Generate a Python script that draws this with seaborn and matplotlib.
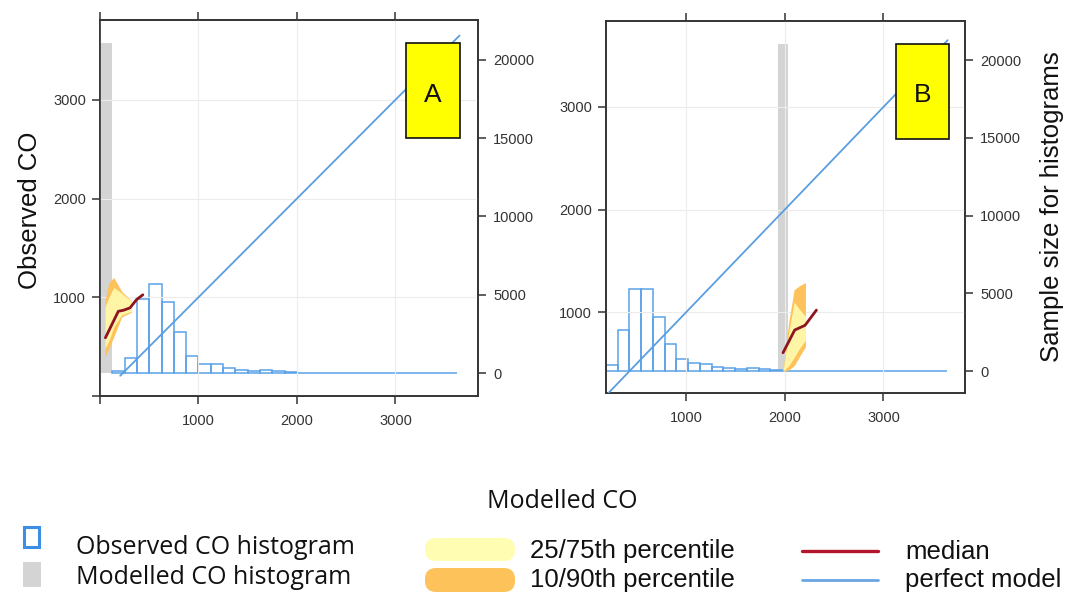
import numpy as np
import pandas as pd
import matplotlib
matplotlib.use("Agg")
import matplotlib.pyplot as plt
import seaborn as sns
from matplotlib.patches import Rectangle, FancyBboxPatch
from matplotlib.lines import Line2D

sns.set_theme(style="white")
plt.rcParams['font.family'] = ['Liberation Sans', 'DejaVu Sans']

# ---------------- data ----------------
# Observed CO histogram (counts per bin), panel A and panel B
obs_a_start, obs_a_width = 125, 125
obs_counts_a = [100, 940, 4700, 5680, 4510, 2600, 1085, 555, 555, 300, 190, 130,
                190, 110, 70, 0, 0, 0, 0, 0, 0, 0, 0, 0, 0, 0, 0, 0]
obs_b_start, obs_b_width = 189, 119
obs_counts_b = [390, 2640, 5250, 5250, 3500, 1740, 770, 540, 430, 280, 195, 150,
                215, 110, 90, 0, 0, 0, 0, 0, 0, 0, 0, 0, 0, 0, 0, 0, 0]

# Modelled CO histogram (single occupied bin)
mod_edges_a = [0, 120]
mod_counts_a = [21070]
mod_edges_b = [1930, 2030]
mod_counts_b = [21070]

# Conditional quantiles of observed CO, panel A
band_x_a = [50, 90, 140, 220, 320]
p10_a = [400, 480, 600, 800, 850]
p25_a = [480, 560, 700, 820, 860]
p75_a = [900, 1000, 1100, 1040, 960]
p90_a = [960, 1150, 1200, 1060, 965]
med_x_a = [55, 186, 237, 305, 372, 435]
med_y_a = [590, 858, 868, 893, 977, 1025]

# Conditional quantiles of observed CO, panel B
band_x_b = [1985, 2040, 2095, 2150, 2210]
p10_b = [425, 440, 480, 570, 665]
p25_b = [430, 480, 560, 650, 730]
p75_b = [440, 800, 1100, 1030, 960]
p90_b = [450, 900, 1220, 1260, 1290]
med_x_b = [1983, 2101, 2206, 2321]
med_y_b = [607, 828, 874, 1022]

# Perfect-model 1:1 line extent
perfect_a = [205, 3650]
perfect_b = [200, 3650]

panel_labels = ["A", "B"]
obs_ticks = [1000, 2000, 3000]
count_ticks = [0, 5000, 10000, 15000, 20000]

# ---------------- styling ----------------
C_OBS = "#5aa2e8"
C_MOD = "#d4d4d4"
C_Q1090 = "#fdc35a"
C_Q2575 = "#fffbb0"
C_MED = "#8e1420"
C_PERF = "#5a9ee0"
C_AX = "#333333"
C_GRID = "#ececec"

W, H, DPI = 1072, 595, 100
fig = plt.figure(figsize=(W / DPI, H / DPI), dpi=DPI)
fig.patch.set_facecolor("white")


def px_axes(l, t, r, b):
    return fig.add_axes([l / W, 1 - b / H, (r - l) / W, (b - t) / H])


def draw_panel(ax, obs_start, obs_width, obs_counts, mod_edges, mod_counts,
               bx, p10, p25, p75, p90, mx, my, perf, xlim, ylim, y2lim,
               xticks, yticks, label, box):
    ax2 = ax.twinx()
    ax.set_zorder(ax2.get_zorder() + 1)
    ax.patch.set_visible(False)

    # histograms on the count axis
    n = len(obs_counts)
    edges = [float(obs_start + obs_width * i) for i in range(n + 1)]
    obs_df = pd.DataFrame({
        "co": [(edges[i] + edges[i + 1]) / 2 for i in range(n)],
        "count": [float(c) for c in obs_counts],
    })
    mod_df = pd.DataFrame({
        "co": [(mod_edges[0] + mod_edges[1]) / 2],
        "count": [float(c) for c in mod_counts],
    })
    sns.histplot(data=mod_df, x="co", weights="count", bins=list(mod_edges), ax=ax2,
                 color=C_MOD, alpha=1, edgecolor="none", linewidth=0)
    sns.histplot(data=obs_df, x="co", weights="count", bins=edges, ax=ax2,
                 fill=False, color=C_OBS, linewidth=1.1)
    ax2.set_ylim(*y2lim)
    ax2.set_yticks(count_ticks)
    ax2.set_yticklabels([str(v) for v in count_ticks])
    ax2.set_ylabel("")
    ax2.set_xlabel("")

    # quantile bands, median and 1:1 line
    ax.fill_between(bx, p10, p90, color=C_Q1090, lw=0, zorder=2)
    ax.fill_between(bx, p25, p75, color=C_Q2575, lw=0, alpha=0.9, zorder=3)
    sns.lineplot(x=perf, y=perf, ax=ax, color=C_PERF, lw=1.3, zorder=4)
    sns.lineplot(x=mx, y=my, ax=ax, color=C_MED, lw=2.0, zorder=5)

    ax.set_xlim(*xlim)
    ax.set_ylim(*ylim)
    ax.set_xticks(xticks)
    ax.set_xticklabels([str(v) if v > 0 else "" for v in xticks])
    ax.set_yticks(yticks)
    ax.set_yticklabels([str(v) if v > 0 else "" for v in yticks])
    ax.set_xlabel("")
    ax.set_ylabel("")
    ax.grid(True, color=C_GRID, lw=0.8)
    ax.set_axisbelow(True)

    for a in (ax, ax2):
        for s in a.spines.values():
            s.set_color(C_AX)
            s.set_linewidth(1.2)
    ax.tick_params(axis="x", which="both", bottom=True, top=True,
                   labelbottom=True, labeltop=False, direction="out",
                   length=6, width=1.1, color=C_AX, labelcolor="#333333",
                   labelsize=10.5, pad=7)
    ax.tick_params(axis="y", left=True, right=False, direction="out",
                   length=6, width=1.1, color=C_AX, labelcolor="#333333",
                   labelsize=10.5, pad=4)
    ax2.tick_params(axis="y", right=True, left=False, direction="out",
                    length=6, width=1.1, color=C_AX, labelcolor="#333333",
                    labelsize=10.5, pad=5)

    # panel label box
    bl, bb, bw, bh = box
    ax.add_patch(Rectangle((bl, bb), bw, bh, transform=ax.transAxes,
                           facecolor="#ffff00", edgecolor="#111111", lw=1.2,
                           zorder=10, clip_on=False))
    ax.text(bl + bw / 2, bb + bh * 0.46, label, transform=ax.transAxes,
            ha="center", va="center", fontsize=19, color="#111111", zorder=11)


ax_a = px_axes(100, 20, 478, 396)
draw_panel(ax_a, obs_a_start, obs_a_width, obs_counts_a, mod_edges_a, mod_counts_a,
           band_x_a, p10_a, p25_a, p75_a, p90_a, med_x_a, med_y_a, perfect_a,
           (0, 3838), (0, 3808), (-1469, 22554),
           [0] + obs_ticks, [0] + obs_ticks, panel_labels[0],
           (0.809, 0.685, 0.143, 0.253))

ax_b = px_axes(606, 21, 965, 393)
draw_panel(ax_b, obs_b_start, obs_b_width, obs_counts_b, mod_edges_b, mod_counts_b,
           band_x_b, p10_b, p25_b, p75_b, p90_b, med_x_b, med_y_b, perfect_b,
           (190, 3826), (215, 3837), (-1415, 22527),
           obs_ticks, obs_ticks, panel_labels[1],
           (0.807, 0.684, 0.148, 0.255))

# axis titles
fig.text(30 / W, 1 - 210 / H, "Observed CO", rotation=90, ha="center",
         va="center", fontsize=18.5, color="#111111")
fig.text(1052 / W, 1 - 207 / H, "Sample size for histograms", rotation=90,
         ha="center", va="center", fontsize=18.5, color="#111111")
fig.text(562 / W, 1 - 502 / H, "Modelled CO", ha="center", va="center",
         fontsize=18, color="#111111", family=["Open Sans", "DejaVu Sans"])

# key
inch = fig.dpi_scale_trans


def yin(py):
    return (H - py) / DPI


fig.add_artist(Rectangle((24 / DPI, yin(547)), 15 / DPI, 20 / DPI, transform=inch,
                         facecolor="none", edgecolor="#3d8fe6", lw=2.2))
fig.add_artist(Rectangle((23 / DPI, yin(587)), 18 / DPI, 25 / DPI, transform=inch,
                         facecolor=C_MOD, edgecolor="none"))
fig.text(76 / W, 1 - 548 / H, "Observed CO histogram", ha="left", va="center",
         fontsize=18, color="#111111", family=["Open Sans", "DejaVu Sans"])
fig.text(76 / W, 1 - 577 / H, "Modelled CO histogram", ha="left", va="center",
         fontsize=18, color="#111111", family=["Open Sans", "DejaVu Sans"])

fig.add_artist(FancyBboxPatch((425 / DPI, yin(561)), 90 / DPI, 23 / DPI,
                              boxstyle="round,pad=0,rounding_size=0.11",
                              transform=inch, facecolor="#fffdb2", edgecolor="none"))
fig.add_artist(FancyBboxPatch((425 / DPI, yin(592)), 90 / DPI, 24 / DPI,
                              boxstyle="round,pad=0,rounding_size=0.11",
                              transform=inch, facecolor=C_Q1090, edgecolor="none"))
fig.text(530 / W, 1 - 551 / H, "25/75th percentile", ha="left", va="center",
         fontsize=18.5, color="#111111")
fig.text(530 / W, 1 - 580 / H, "10/90th percentile", ha="left", va="center",
         fontsize=18.5, color="#111111")

fig.add_artist(Line2D([802 / DPI, 878 / DPI], [yin(551)] * 2, transform=inch,
                      color="#b3152c", lw=2.4))
fig.add_artist(Line2D([802 / DPI, 878 / DPI], [yin(580)] * 2, transform=inch,
                      color="#6aa6e3", lw=2.0))
fig.text(905 / W, 1 - 552 / H, "median", ha="left", va="center",
         fontsize=18.5, color="#111111")
fig.text(905 / W, 1 - 580 / H, "perfect model", ha="left", va="center",
         fontsize=18.5, color="#111111")

fig.savefig("out.png", dpi=DPI, facecolor="white")
